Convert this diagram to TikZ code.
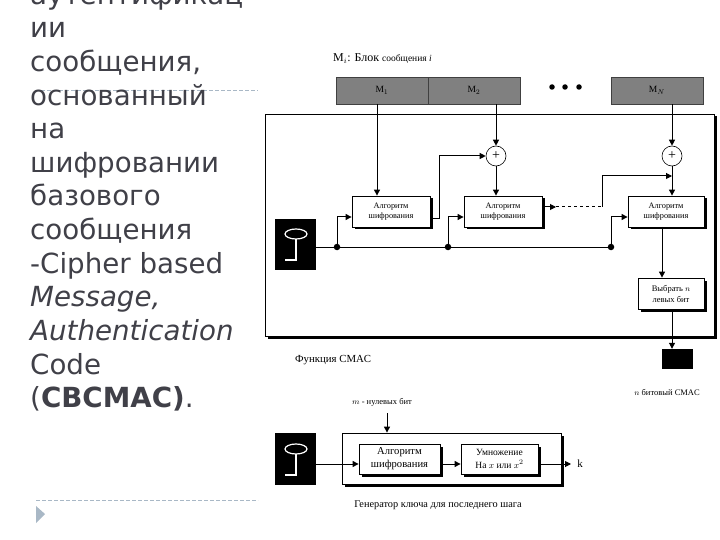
\documentclass[tikz,border=0pt]{standalone}
\usepackage{fontspec}
\setmainfont{Liberation Serif}
\newfontfamily\slidefont{DejaVu Sans}
\usetikzlibrary{arrows.meta,shadows}
\definecolor{slidetext}{HTML}{404048}
\definecolor{slidedash}{HTML}{A9B8C6}
\tikzset{
  bodyline/.style={anchor=base west,inner sep=0pt,text=slidetext,font=\slidefont\fontsize{27.7}{27.7}\selectfont},
  sbox/.style={draw=black,fill=white,line width=0.8pt,inner sep=0pt,align=center,font=\fontsize{8.3}{10}\selectfont,
    drop shadow={shadow xshift=2.5pt,shadow yshift=-2.5pt,fill=black,opacity=1}},
  mbox/.style={draw=black!75,fill=black!50,line width=0.9pt,inner sep=0pt,font=\fontsize{9.5}{10}\selectfont,minimum width=92pt,minimum height=27pt},
  keybox/.style={fill=black,inner sep=0pt,minimum width=41pt},
  xorn/.style={circle,draw=black,fill=white,line width=0.6pt,inner sep=0pt,minimum size=20pt,font=\fontsize{14}{14}\selectfont},
  jdot/.style={circle,fill=black,inner sep=0pt,minimum size=6.5pt},
  edot/.style={circle,fill=black,inner sep=0pt,minimum size=5.5pt},
  lbl/.style={inner sep=0pt,font=\fontsize{8.5}{9}\selectfont},
  conn/.style={line width=1pt,draw=black},
  arr/.style={conn,-{Triangle[length=6pt,width=6pt]}},
  guide/.style={draw=slidedash,line width=0.8pt,dash pattern=on 4pt off 2pt},
  keyglyph/.style={draw=white,line width=1.2pt}
}
\begin{document}
\begin{tikzpicture}[x=1pt,y=-1pt]
\useasboundingbox (0,0) rectangle (720,540);
% slide decoration
\coordinate (g1a) at (35,90); \coordinate (g1b) at (258,90);
\coordinate (g2a) at (36,500); \coordinate (g2b) at (258,500);
\draw[guide] (g1a) -- (g1b);
\draw[guide] (g2a) -- (g2b);
\fill[slidedash] (36,506) -- (45,514) -- (36,523) -- cycle;
% slide text
\node[bodyline] (t0) at (30,4.5) {аутентификац};
\node[bodyline] (t1) at (30,38) {ии};
\node[bodyline] (t2) at (30,71.7) {сообщения,};
\node[bodyline] (t3) at (30,105.3) {основанный};
\node[bodyline] (t4) at (30,138.9) {на};
\node[bodyline] (t5) at (30,172.5) {шифровании};
\node[bodyline] (t6) at (30,206) {базового};
\node[bodyline] (t7) at (30,239.7) {сообщения};
\node[bodyline] (t8) at (30,273.3) {-Cipher based};
\node[bodyline] (t9) at (30,306.9) {\itshape Message,};
\node[bodyline] (t10) at (30,340.5) {\itshape Authentication};
\node[bodyline] (t11) at (30,374) {Code};
\node[bodyline] (t12) at (30,407.7) {(\textbf{CBCMAC)}.};
% upper diagram
\node[inner sep=0pt,anchor=base west,font=\fontsize{12}{12}\selectfont] (title) at (333,62) {M$_i$: Блок {\fontsize{9.5}{10}\selectfont сообщения \textit{i}}};
\node[sbox,minimum width=449pt,minimum height=222pt] (frame) at (489.5,225) {};
\node[mbox] (m1) at (382,90.5) {M$_1$};
\node[mbox] (m2) at (474,90.5) {M$_2$};
\node[mbox] (mn) at (657,90.5) {M$_N$};
\node[edot] (d1) at (552,87) {};
\node[edot] (d2) at (565,87) {};
\node[edot] (d3) at (579,87) {};
\node[xorn] (xa) at (496,156) {+};
\node[xorn] (xb) at (672,156) {+};
\node[sbox,minimum width=78pt,minimum height=31pt] (b1) at (391,211.5) {Алгоритм\\шифрования};
\node[sbox,minimum width=78pt,minimum height=31pt] (b2) at (503,211.5) {Алгоритм\\шифрования};
\node[sbox,minimum width=76pt,minimum height=31pt] (b3) at (666,211.5) {Алгоритм\\шифрования};
\node[sbox,minimum width=66pt,minimum height=31pt,font=\fontsize{8.5}{11}\selectfont] (sel) at (671,293.5) {Выбрать $n$\\левых бит};
\node[fill=black,inner sep=0pt,minimum width=31pt,minimum height=20pt] (out) at (677.5,359) {};
\node[keybox,minimum height=51pt] (k1) at (295.5,244.5) {};
\draw[keyglyph] (296,234) ellipse [x radius=11,y radius=5];
\draw[keyglyph] (296,239) -- (296,260) -- (285,260);
\node[jdot] (j1) at (337,247) {};
\node[jdot] (j2) at (448,247) {};
\node[jdot] (j3) at (611,247) {};
\coordinate (fb1) at (439,219);
\coordinate (fb2) at (439,156);
\coordinate (dm) at (556,207);
\coordinate (up1) at (602,207);
\coordinate (up2) at (602,176);
\coordinate (mrg) at (672,176);
\coordinate (jy) at (0,217);
\coordinate (mo) at (377,104);
\coordinate (si) at (662,227);
\coordinate (so) at (672,309);
\draw[arr] (mo) -- (mo |- b1.north);
\draw[arr] (xa |- m2.south) -- (xa.north);
\draw[arr] (xa.south) -- (xa.south |- b2.north);
\draw[arr] (xb |- mn.south) -- (xb.north);
\draw[arr] (xb.south) -- (xb.south |- b3.north);
\draw[conn] (b1.east |- fb1) -- (fb1) -- (fb2);
\draw[arr] (fb2) -- (xa.west);
\draw[arr] (b2.east |- dm) -- (dm);
\draw[conn,dashed] (dm) -- (up1);
\draw[conn] (up1) -- (up2);
\draw[arr] (up2) -- (mrg);
\draw[conn] (k1.east |- j1) -- (j1) -- (j2) -- (j3);
\draw[arr] (j1.north) -- (j1.center |- jy) -- (b1.west |- jy);
\draw[arr] (j2.north) -- (j2.center |- jy) -- (b2.west |- jy);
\draw[arr] (j3.north) -- (j3.center |- jy) -- (b3.west |- jy);
\draw[arr] (si) -- (si |- sel.north);
\draw[arr] (so) -- (so |- out.north);
\node[lbl,anchor=west,font=\fontsize{10.8}{11}\selectfont] (fn) at (295,360) {Функция CMAC};
\node[lbl,anchor=east] (nb) at (700,392) {$n$ битовый CMAC};
% lower diagram
\node[lbl] (zb) at (382,402) {$m$ - нулевых бит};
\node[sbox,minimum width=219pt,minimum height=51pt] (f2) at (451.5,458.5) {};
\node[sbox,minimum width=81pt,minimum height=30pt,font=\fontsize{10.6}{13}\selectfont] (i1) at (399.5,459) {Алгоритм\\шифрования};
\node[sbox,minimum width=77pt,minimum height=30pt,font=\fontsize{9.5}{13}\selectfont] (i2) at (499.5,459) {Умножение\\На $x$ или $x^2$};
\node[keybox,minimum height=52pt] (k2) at (295.5,459) {};
\draw[keyglyph] (296,449) ellipse [x radius=11,y radius=5];
\draw[keyglyph] (296,454) -- (296,475) -- (285,475);
\node[inner sep=0pt,font=\fontsize{11}{11}\selectfont] (kout) at (580,464) {k};
\coordinate (zt) at (387,413);
\coordinate (ke) at (571,464);
\draw[arr] (zt) -- (zt |- f2.north);
\draw[arr] (k2.east |- ke) -- (i1.west |- ke);
\draw[arr] (i1.east |- ke) -- (i2.west |- ke);
\draw[arr] (i2.east |- ke) -- (ke);
\node[lbl,font=\fontsize{10.3}{11}\selectfont] (cap) at (438,505) {Генератор ключа для последнего шага};
\end{tikzpicture}
\end{document}
